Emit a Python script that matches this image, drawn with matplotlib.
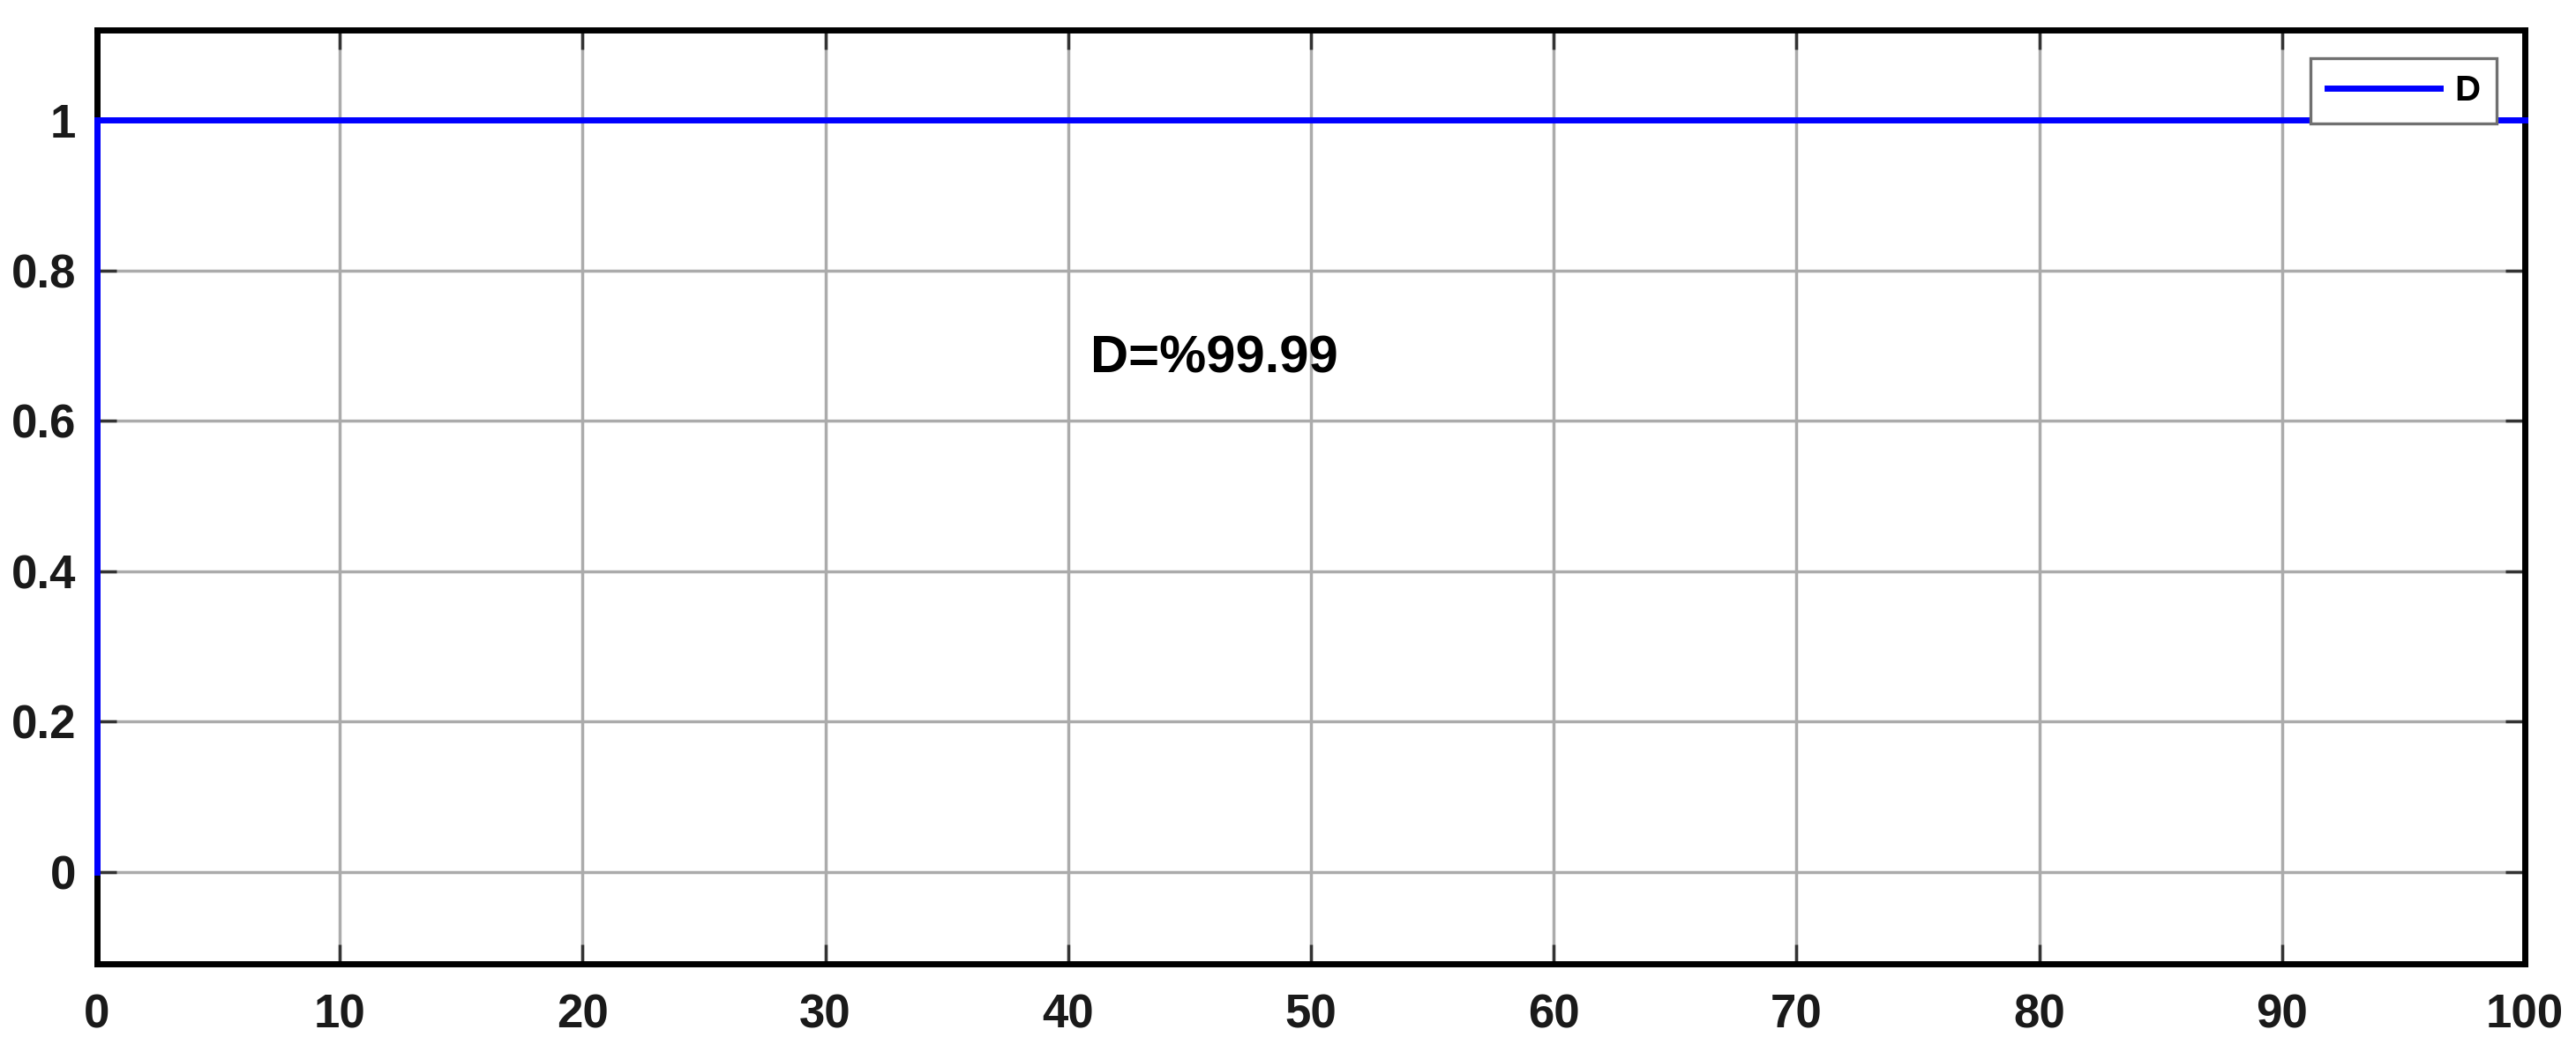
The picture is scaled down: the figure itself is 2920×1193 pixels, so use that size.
import matplotlib
matplotlib.use("Agg")
import matplotlib.pyplot as plt

# Data
t = [0, 0, 100]
D = [0, 1, 1]
xticks = [0, 10, 20, 30, 40, 50, 60, 70, 80, 90, 100]
yticks = [0, 0.2, 0.4, 0.6, 0.8, 1]
ytick_labels = ["0", "0.2", "0.4", "0.6", "0.8", "1"]
annotation = "D=%99.99"
legend_label = "D"

plt.rcParams['font.family'] = ['Liberation Sans', 'DejaVu Sans']
plt.rcParams['font.weight'] = 'bold'

fig = plt.figure(figsize=(29.2, 11.93), dpi=100)
ax = fig.add_axes([110/2920, 100/1193, (2862-110)/2920, (1093-34)/1193])

ax.plot(t, D, color='#0000ff', lw=5.0, label=legend_label, clip_on=False, zorder=5,
        solid_joinstyle='miter')

ax.set_xlim(0, 100)
ax.set_ylim(-0.122, 1.12)
ax.set_xticks(xticks)
ax.set_xticklabels([str(v) for v in xticks])
ax.set_yticks(yticks)
ax.set_yticklabels(ytick_labels)

ax.grid(True, color='#ababab', lw=2.5)
ax.set_axisbelow(True)
ax.tick_params(direction='in', length=16, width=2.5, color='#333333',
               top=True, right=True, labelsize=38, pad=17)
ax.tick_params(axis='x', pad=24)
for lab in ax.get_xticklabels() + ax.get_yticklabels():
    lab.set_fontweight('bold')
    lab.set_color('#1a1a1a')

for s in ax.spines.values():
    s.set_linewidth(5.0)
    s.set_color('black')
    s.set_zorder(4)

ax.text(40.9, 0.664, annotation, fontsize=43, fontweight='bold', color='black',
        ha='left', va='baseline')

leg = ax.legend(loc='upper right', fontsize=29, frameon=True, fancybox=False,
                edgecolor='#707070', framealpha=1, handlelength=3.2,
                borderpad=0.45, handletextpad=0.4, borderaxespad=0.8)
leg.get_frame().set_linewidth(2.4)
for txt in leg.get_texts():
    txt.set_fontweight('bold')
leg.set_zorder(6)

fig.savefig('out.png', dpi=100)
